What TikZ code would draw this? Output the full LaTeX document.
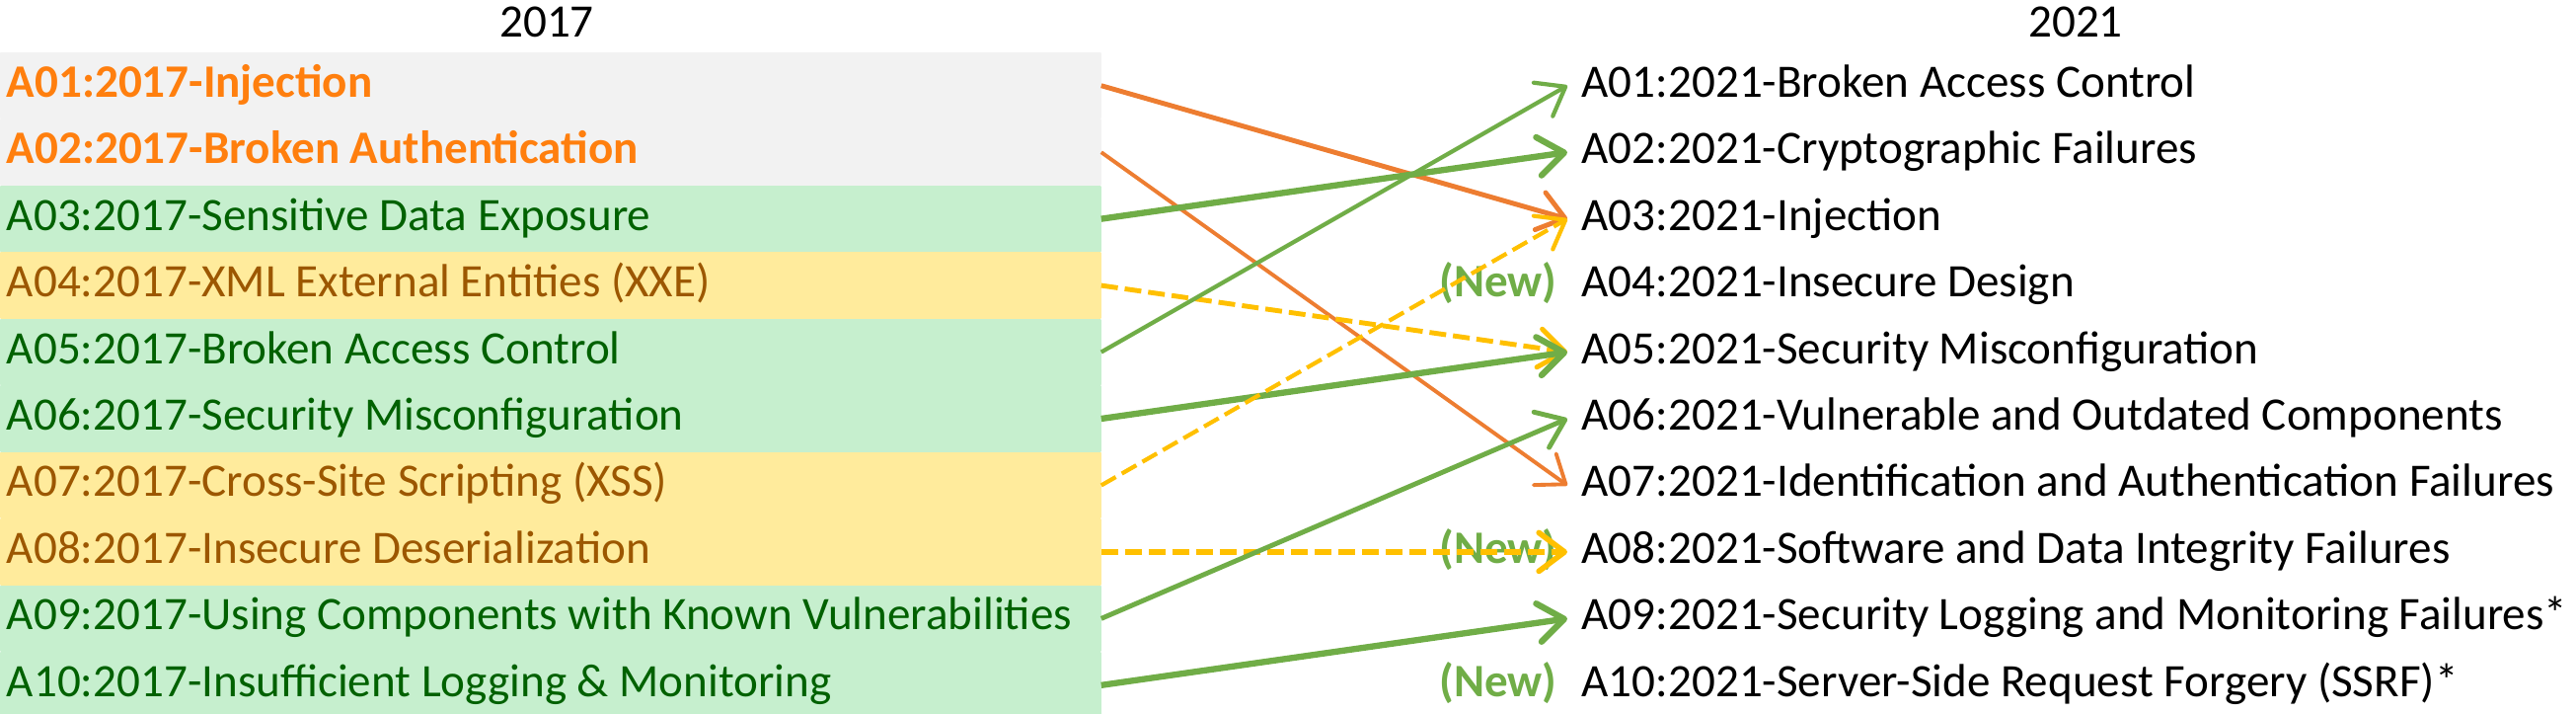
\documentclass[tikz,border=0pt]{standalone}
\usepackage{fontspec}
\setmainfont{Carlito}
\usetikzlibrary{positioning,arrows.meta}
\definecolor{grayfill}{HTML}{F2F2F2}
\definecolor{goodfill}{HTML}{C6EFCE}
\definecolor{goodtext}{HTML}{006100}
\definecolor{neutralfill}{HTML}{FFEB9C}
\definecolor{neutraltext}{HTML}{9C5700}
\definecolor{orangetext}{HTML}{FF7F0E}
\definecolor{orangeline}{HTML}{ED7D31}
\definecolor{greenline}{HTML}{70AD47}
\definecolor{yellowline}{HTML}{FFC000}
\tikzset{
  rowfont/.style={font=\fontsize{13.4}{16}\selectfont},
  oldbox/.style={rowfont,inner xsep=0.06cm,inner ysep=0pt,text width=11.02cm,align=flush left,
    minimum height=0.657cm,text height=0.33cm,text depth=0.1cm,line width=0.5pt},
  topbox/.style={oldbox,fill=grayfill,draw=grayfill,text=orangetext,font=\fontsize{13.4}{16}\selectfont\bfseries},
  goodbox/.style={oldbox,fill=goodfill,draw=goodfill,text=goodtext},
  neutralbox/.style={oldbox,fill=neutralfill,draw=neutralfill,text=neutraltext},
  newitem/.style={rowfont,anchor=west,inner xsep=0.14cm,inner ysep=0pt,text height=0.33cm,text depth=0.1cm},
  newtag/.style={inner xsep=0pt,inner ysep=0pt,text=greenline,font=\fontsize{13.4}{16}\selectfont\bfseries,
    text height=0.33cm,text depth=0.1cm},
  oline/.style={draw=orangeline,->},
  gline/.style={draw=greenline,->},
  yline/.style={draw=yellowline,->,dash pattern=on 0.17cm off 0.07cm}
}
\begin{document}
\begin{tikzpicture}[line join=round,>={Straight Barb[length=2.6mm,width=3.9mm,round]},x=1.0cm,y=1.0cm]
\useasboundingbox (0,0) rectangle (26.1,-7.23);
\node[rowfont] (h17) at (5.54,-0.22) {2017};
\node[rowfont] (h21) at (21.03,-0.22) {2021};

\node[topbox,anchor=north west] (o1) at (0,-0.53) {A01:2017-Injection};
\node[topbox,below=0pt of o1] (o2) {A02:2017-Broken Authentication};
\node[goodbox,below=0pt of o2] (o3) {A03:2017-Sensitive Data Exposure};
\node[neutralbox,below=0pt of o3] (o4) {A04:2017-XML External Entities (XXE)};
\node[goodbox,below=0pt of o4] (o5) {A05:2017-Broken Access Control};
\node[goodbox,below=0pt of o5] (o6) {A06:2017-Security Misconfiguration};
\node[neutralbox,below=0pt of o6] (o7) {A07:2017-Cross-Site Scripting (XSS)};
\node[neutralbox,below=0pt of o7] (o8) {A08:2017-Insecure Deserialization};
\node[goodbox,below=0pt of o8] (o9) {A09:2017-Using Components with Known Vulnerabilities};
\node[goodbox,below=0pt of o9] (o10) {A10:2017-Insufficient Logging \& Monitoring};

\node[newitem] (n1) at (o1.center -| 15.88,0) {A01:2021-Broken Access Control};
\node[newitem] (n2) at (o2.center -| 15.88,0) {A02:2021-Cryptographic Failures};
\node[newitem] (n3) at (o3.center -| 15.88,0) {A03:2021-Injection};
\node[newitem] (n4) at (o4.center -| 15.88,0) {A04:2021-Insecure Design};
\node[newitem] (n5) at (o5.center -| 15.88,0) {A05:2021-Security Misconfiguration};
\node[newitem] (n6) at (o6.center -| 15.88,0) {A06:2021-Vulnerable and Outdated Components};
\node[newitem] (n7) at (o7.center -| 15.88,0) {A07:2021-Identification and Authentication Failures};
\node[newitem] (n8) at (o8.center -| 15.88,0) {A08:2021-Software and Data Integrity Failures};
\node[newitem] (n9) at (o9.center -| 15.88,0) {A09:2021-Security Logging and Monitoring Failures*};
\node[newitem] (n10) at (o10.center -| 15.88,0) {A10:2021-Server-Side Request Forgery (SSRF)*};

\node[newtag,left=0.1cm of n4] (new4) {(New)};
\node[newtag,left=0.1cm of n8] (new8) {(New)};
\node[newtag,left=0.1cm of n10] (new10) {(New)};

\draw[oline,line width=1.4pt] (o1.east) -- (n3.west);
\draw[oline,line width=1.1pt] (o2.east) -- (n7.west);
\draw[gline,line width=1.8pt] (o3.east) -- (n2.west);
\draw[yline,line width=1.4pt] (o4.east) -- (n5.west);
\draw[gline,line width=1.2pt] (o5.east) -- (n1.west);
\draw[gline,line width=1.8pt] (o6.east) -- (n5.west);
\draw[yline,line width=1.2pt] (o7.east) -- (n3.west);
\draw[yline,line width=1.6pt] (o8.east) -- (n8.west);
\draw[gline,line width=1.4pt] (o9.east) -- (n6.west);
\draw[gline,line width=1.8pt] (o10.east) -- (n9.west);
\end{tikzpicture}
\end{document}
